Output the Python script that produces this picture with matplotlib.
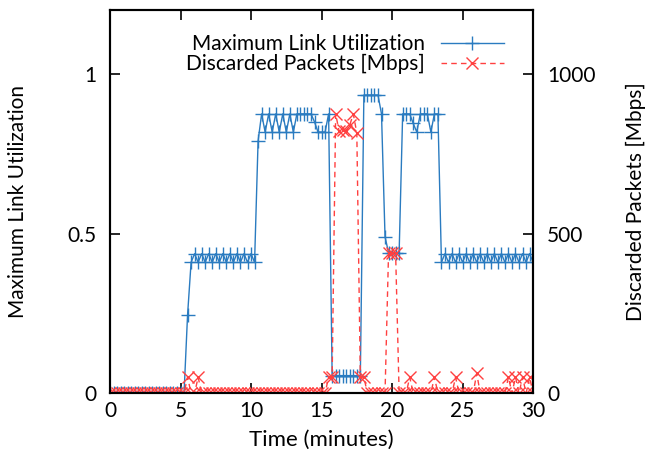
import numpy as np
import matplotlib
matplotlib.use('Agg')
import matplotlib.pyplot as plt
import matplotlib as mpl

mpl.rcParams['font.family'] = ['Lato', 'DejaVu Sans']
mpl.rcParams['font.size'] = 15.0

# maximum link utilization, one sample every 15 s
link_util = [
    0, 0, 0, 0, 0, 0, 0, 0, 0, 0,
    0, 0, 0, 0, 0, 0, 0, 0, 0, 0,
    0, 0, 0.245, 0.41, 0.437, 0.41, 0.437, 0.41, 0.437, 0.41,
    0.437, 0.41, 0.437, 0.41, 0.437, 0.41, 0.437, 0.41, 0.437, 0.41,
    0.437, 0.41, 0.79, 0.875, 0.818, 0.875, 0.818, 0.875, 0.818, 0.875,
    0.818, 0.875, 0.818, 0.875, 0.875, 0.875, 0.875, 0.875, 0.85, 0.818,
    0.818, 0.818, 0.875, 0.055, 0.055, 0.055, 0.055, 0.055, 0.055, 0.055,
    0.055, 0.055, 0.934, 0.934, 0.934, 0.934, 0.934, 0.875, 0.49, 0.44,
    0.44, 0.44, 0.44, 0.875, 0.875, 0.875, 0.845, 0.818, 0.875, 0.875,
    0.875, 0.818, 0.875, 0.875, 0.41, 0.437, 0.41, 0.437, 0.41, 0.437,
    0.41, 0.437, 0.41, 0.437, 0.41, 0.437, 0.41, 0.437, 0.41, 0.437,
    0.41, 0.437, 0.41, 0.437, 0.41, 0.437, 0.41, 0.437, 0.41, 0.437,
    0.41,
]

# discarded packets [Mbps]
discarded = [
    0, 0, 0, 0, 0, 0, 0, 0, 0, 0,
    0, 0, 0, 0, 0, 0, 0, 0, 0, 0,
    0, 0, 50, 0, 0, 50, 0, 0, 0, 0,
    0, 0, 0, 0, 0, 0, 0, 0, 0, 0,
    0, 0, 0, 0, 0, 0, 0, 0, 0, 0,
    0, 0, 0, 0, 0, 0, 0, 0, 0, 0,
    0, 0, 50, 50, 875, 820, 825, 820, 840, 875,
    815, 50, 50, 0, 0, 0, 0, 0, 0, 440,
    440, 440, 0, 0, 0, 50, 0, 0, 0, 0,
    0, 0, 50, 0, 0, 0, 0, 0, 50, 0,
    0, 0, 0, 0, 62, 0, 0, 0, 0, 0,
    0, 0, 0, 50, 0, 50, 0, 50, 0, 50,
    0,
]

minutes = np.linspace(0, 30, len(link_util))

fig = plt.figure(figsize=(6.47, 4.62), dpi=100)
ax = fig.add_axes([0.170, 0.149, 0.654, 0.829])
ax2 = ax.twinx()

blue = '#2a7bc0'
red = '#ff4040'

l1, = ax.plot(minutes, link_util, color=blue, lw=1.0, marker='+', ms=10, mew=1.0,
              label='Maximum Link Utilization')
l2, = ax2.plot(minutes, discarded, color=red, lw=1.0, ls=(0, (4, 3)), marker='x', ms=9,
               mew=1.0, label='Discarded Packets [Mbps]')

ax.set_xlim(0, 30)
ax.set_ylim(0, 1.2)
ax2.set_ylim(0, 1200)
ax.set_xticks([0, 5, 10, 15, 20, 25, 30])
ax.set_yticks([0, 0.5, 1])
ax.set_yticklabels(['0', '0.5', '1'])
ax2.set_yticks([0, 500, 1000])

ax.tick_params(axis='x', direction='in', length=7, width=1.2, top=True, pad=6)
ax.tick_params(axis='y', direction='in', length=7, width=1.2, pad=10)
ax2.tick_params(axis='y', direction='in', length=7, width=1.2, pad=10)
for a in (ax, ax2):
    for s in a.spines.values():
        s.set_linewidth(1.5)

ax.set_xlabel('Time (minutes)', labelpad=6, fontsize=16)
ax.set_ylabel('Maximum Link Utilization', labelpad=28)
ax2.set_ylabel('Discarded Packets [Mbps]', labelpad=22)

leg = ax2.legend([l1, l2], [l1.get_label(), l2.get_label()], loc='upper right',
                 bbox_to_anchor=(0.965, 0.975), frameon=False, markerfirst=False,
                 handlelength=3.0, borderaxespad=0.3, labelspacing=0.0,
                 handletextpad=0.8, fontsize=15)
for t in leg.get_texts():
    t.set_ha('right')

fig.savefig('out.png', dpi=100)
